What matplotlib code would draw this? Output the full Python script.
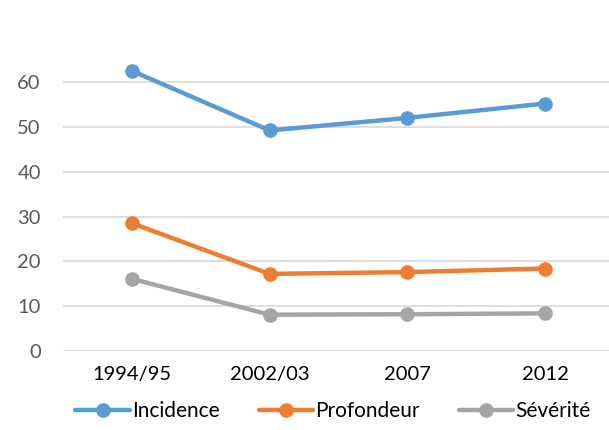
import matplotlib
matplotlib.use("Agg")
import matplotlib.pyplot as plt

categories = ["1994/95", "2002/03", "2007", "2012"]
incidence = [62.5, 49.2, 52.0, 55.2]
profondeur = [28.5, 17.2, 17.6, 18.4]
severite = [16.1, 8.1, 8.2, 8.4]
series_names = ["Incidence", "Profondeur", "Sévérité"]
yticks = [0, 10, 20, 30, 40, 50, 60]

colors = ["#5B9BD5", "#ED7D31", "#A5A5A5"]

plt.rcParams['font.family'] = ['Lato', 'DejaVu Sans']

fig = plt.figure(figsize=(6.09, 4.30), dpi=100)
ax = fig.add_axes([63/609, 79/430, 1 - 63/609, 351/430])

x = list(range(len(categories)))
for vals, name, c in zip([incidence, profondeur, severite], series_names, colors):
    ax.plot(x, vals, color=c, lw=3.2, marker='o', markersize=9.5, label=name,
            solid_capstyle='round', zorder=3)

ax.set_xlim(-0.5, 3.465)
ax.set_ylim(0, 78.3)
ax.set_yticks(yticks)
ax.set_yticklabels([str(v) for v in yticks])
ax.set_xticks(x)
ax.set_xticklabels(categories)
ax.yaxis.grid(True, color="#D9D9D9", lw=1.2)
ax.set_axisbelow(True)
for s in ax.spines.values():
    s.set_visible(False)
ax.tick_params(axis='both', length=0, labelsize=14.5)
ax.tick_params(axis='y', labelcolor="#595959", pad=16)
ax.tick_params(axis='x', labelcolor="#000000", pad=11)

leg = fig.legend(loc='center', bbox_to_anchor=(0.547, 19/430), ncol=3, frameon=False,
                 fontsize=15, handlelength=2.6, handletextpad=0.1, columnspacing=1.9,
                 borderaxespad=0)
plt.savefig("out.png", dpi=100)
